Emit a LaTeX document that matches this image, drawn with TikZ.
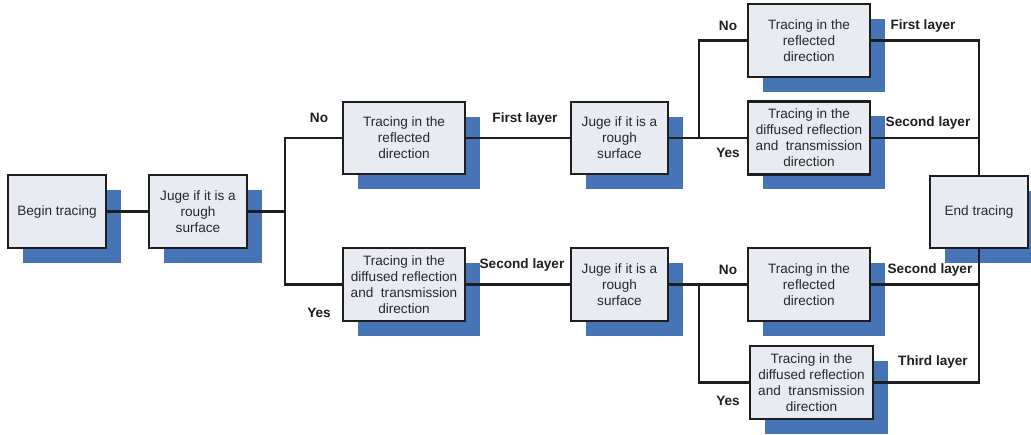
\documentclass[tikz,border=0pt]{standalone}
\usepackage{fontspec}
\setmainfont{Liberation Sans}
\usetikzlibrary{shadows}
\definecolor{boxfill}{RGB}{232,236,242}
\definecolor{shadowblue}{RGB}{70,116,182}
\definecolor{linecol}{RGB}{30,30,30}
\definecolor{textcol}{RGB}{40,40,40}
\tikzset{
  stepbox/.style={draw=linecol, line width=2.2pt, fill=boxfill, align=center,
    inner sep=0pt, text=textcol, font=\fontsize{13.6}{16}\selectfont,
    general shadow={shadow xshift=15pt, shadow yshift=-15pt, fill=shadowblue, draw=none}},
  conn/.style={draw=linecol, line width=2.2pt},
  lbl/.style={font=\fontsize{13.6}{16}\selectfont\bfseries, inner sep=0pt, text=linecol}
}
\begin{document}
\begin{tikzpicture}[x=1pt,y=-1pt]
\useasboundingbox (0,0) rectangle (1031,435);
% boxes
\node[stepbox, minimum width=98pt, minimum height=73pt] (begin) at (57,211.5) {Begin tracing};
\node[stepbox, minimum width=98pt, minimum height=73pt] (juge1) at (198,211.5) {Juge if it is a\\rough\\surface};
\node[stepbox, minimum width=122pt, minimum height=72pt] (refl1) at (404,138) {Tracing in the\\reflected\\direction};
\node[stepbox, minimum width=97pt, minimum height=72pt] (juge2) at (619.5,138) {Juge if it is a\\rough\\surface};
\node[stepbox, minimum width=122pt, minimum height=73pt] (diff1) at (404,284.5) {Tracing in the\\diffused reflection\\and\ \ transmission\\direction};
\node[stepbox, minimum width=97pt, minimum height=73pt] (juge3) at (619.5,284.5) {Juge if it is a\\rough\\surface};
\node[stepbox, minimum width=122pt, minimum height=73pt] (refl2) at (809,40.5) {Tracing in the\\reflected\\direction};
\node[stepbox, minimum width=122pt, minimum height=73pt] (diff2) at (809,138) {Tracing in the\\diffused reflection\\and\ \ transmission\\direction};
\node[stepbox, minimum width=98pt, minimum height=72pt] (end) at (979,212) {End tracing};
\node[stepbox, minimum width=122pt, minimum height=73pt] (refl3) at (809,284.5) {Tracing in the\\reflected\\direction};
\node[stepbox, minimum width=123pt, minimum height=73pt] (diff3) at (811.5,382.5) {Tracing in the\\diffused reflection\\and\ \ transmission\\direction};
% branch points
\coordinate (b1) at (285,211.5);
\coordinate (b2) at (699,138);
\coordinate (b3) at (699,284.5);
% connectors
\draw[conn] (begin.east) -- (juge1.west);
\draw[conn] (juge1.east) -- (b1);
\draw[conn] (b1) |- (refl1.west);
\draw[conn] (b1) |- (diff1.west);
\draw[conn] (refl1.east) -- (juge2.west);
\draw[conn] (diff1.east) -- (juge3.west);
\draw[conn] (juge2.east) -- (b2);
\draw[conn] (b2) |- (refl2.west);
\draw[conn] (b2) -- (diff2.west);
\draw[conn] (juge3.east) -- (b3);
\draw[conn] (b3) -- (refl3.west);
\draw[conn] (b3) |- (diff3.west);
\draw[conn] (refl2.east) -| (end.north);
\draw[conn] (diff2.east) -- (diff2.east -| end.north);
\draw[conn] (end.south) |- (diff3.east);
\draw[conn] (refl3.east) -- (refl3.east -| end.south);
% labels
\node[lbl] (l1) at (319,118) {No};
\node[lbl] (l2) at (319,313) {Yes};
\node[lbl] (l3) at (525,119) {First layer};
\node[lbl] (l4) at (522,265) {Second layer};
\node[lbl] (l5) at (728,26) {No};
\node[lbl] (l6) at (728,153) {Yes};
\node[lbl] (l7) at (923,26) {First layer};
\node[lbl] (l8) at (928,123) {Second layer};
\node[lbl] (l9) at (728,270) {No};
\node[lbl] (l10) at (728,401) {Yes};
\node[lbl] (l11) at (930,270) {Second layer};
\node[lbl] (l12) at (933,362) {Third layer};
\end{tikzpicture}
\end{document}
